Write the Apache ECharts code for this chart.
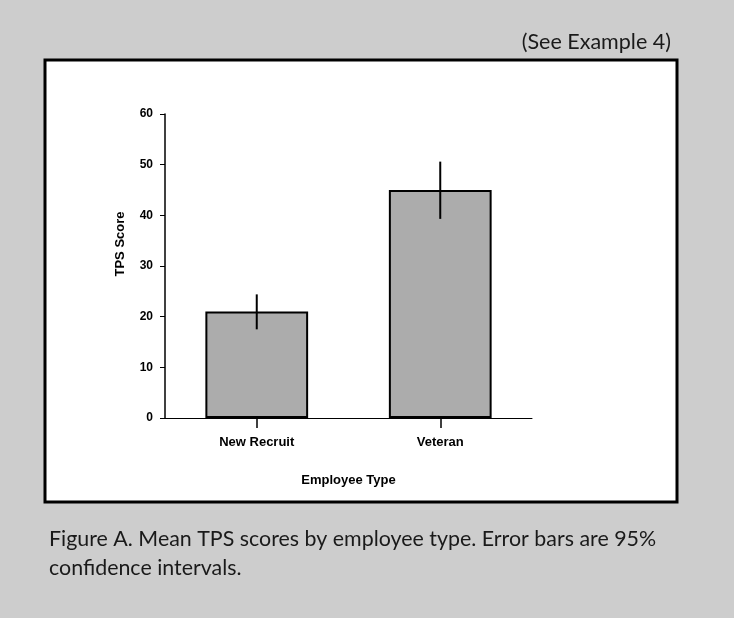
<!DOCTYPE html>
<html>
<head>
<meta charset="utf-8">
<title>Mean TPS scores by employee type</title>
<script src="https://cdn.jsdelivr.net/npm/echarts@6/dist/echarts.min.js"></script>
<style>
  html, body { margin: 0; padding: 0; background: #cdcdcd; }
  #chart { width: 734px; height: 618px; }
</style>
</head>
<body>
<div id="chart"></div>
<script>
// Employee groups and their mean TPS scores with 95% confidence limits
const categories = ['New Recruit', 'Veteran'];
const meanScores = [21, 45];
const ciLower = [17.5, 39.3];
const ciUpper = [24.4, 50.6];

// Value axis range
const yMin = 0;
const yMax = 60;
const yStep = 10;

const captionLines = [
  'Figure A. Mean TPS scores by employee type. Error bars are 95%',
  'confidence intervals.'
];
const exampleNote = '(See Example 4)';

const chart = echarts.init(document.getElementById('chart'), null, { renderer: 'canvas' });

const boldFont = '"Liberation Sans", Arial, Helvetica, sans-serif';
const captionFont = 'Lato, "Open Sans", sans-serif';

chart.setOption({
  backgroundColor: '#cdcdcd',
  animation: false,
  graphic: [
    {
      type: 'rect',
      z: -10,
      shape: { x: 45, y: 60, width: 632, height: 442 },
      style: { fill: '#ffffff', stroke: '#000000', lineWidth: 3 }
    },
    {
      type: 'text',
      right: 63,
      top: 31,
      style: {
        text: exampleNote,
        font: '400 21.5px ' + captionFont,
        fill: '#1a1a1a'
      }
    },
    {
      type: 'text',
      left: 49,
      top: 525,
      style: {
        text: captionLines.join('\n'),
        font: '400 21.4px ' + captionFont,
        lineHeight: 29,
        fill: '#1a1a1a'
      }
    }
  ],
  grid: {
    left: 165,
    right: 202,
    top: 114,
    bottom: 200,
    containLabel: false
  },
  xAxis: {
    type: 'category',
    data: categories,
    name: 'Employee Type',
    nameLocation: 'middle',
    nameGap: 56,
    nameTextStyle: {
      fontFamily: boldFont,
      fontWeight: 'bold',
      fontSize: 13,
      color: '#000'
    },
    axisLine: { lineStyle: { color: '#000', width: 1 } },
    axisTick: {
      show: true,
      alignWithLabel: true,
      length: 10,
      lineStyle: { color: '#000', width: 1.5 }
    },
    axisLabel: {
      margin: 18,
      fontFamily: boldFont,
      fontWeight: 'bold',
      fontSize: 13,
      color: '#000'
    },
    splitLine: { show: false }
  },
  yAxis: {
    type: 'value',
    min: yMin,
    max: yMax,
    interval: yStep,
    name: 'TPS Score',
    nameLocation: 'middle',
    nameGap: 38,
    nameRotate: 90,
    nameTextStyle: {
      fontFamily: boldFont,
      fontWeight: 'bold',
      fontSize: 13,
      color: '#000',
      padding: [0, 0, 0, 44]
    },
    axisLine: { show: true, lineStyle: { color: '#000', width: 1.5 } },
    axisTick: { show: true, length: 5, lineStyle: { color: '#000', width: 1 } },
    axisLabel: {
      margin: 12,
      fontFamily: boldFont,
      fontWeight: 'bold',
      fontSize: 12,
      color: '#000'
    },
    splitLine: { show: false }
  },
  series: [
    {
      name: 'Mean TPS score',
      type: 'bar',
      data: meanScores,
      barWidth: '56%',
      itemStyle: {
        color: '#acacac',
        borderColor: '#000',
        borderWidth: 2
      },
      z: 2
    },
    {
      name: '95% CI',
      type: 'custom',
      data: categories.map((c, i) => [i, ciLower[i], ciUpper[i]]),
      encode: { x: 0, y: [1, 2] },
      z: 5,
      renderItem: function (params, api) {
        const idx = api.value(0);
        const low = api.coord([idx, api.value(1)]);
        const high = api.coord([idx, api.value(2)]);
        return {
          type: 'line',
          shape: { x1: low[0], y1: low[1], x2: high[0], y2: high[1] },
          style: { stroke: '#000', lineWidth: 2 }
        };
      }
    }
  ]
});
</script>
</body>
</html>
